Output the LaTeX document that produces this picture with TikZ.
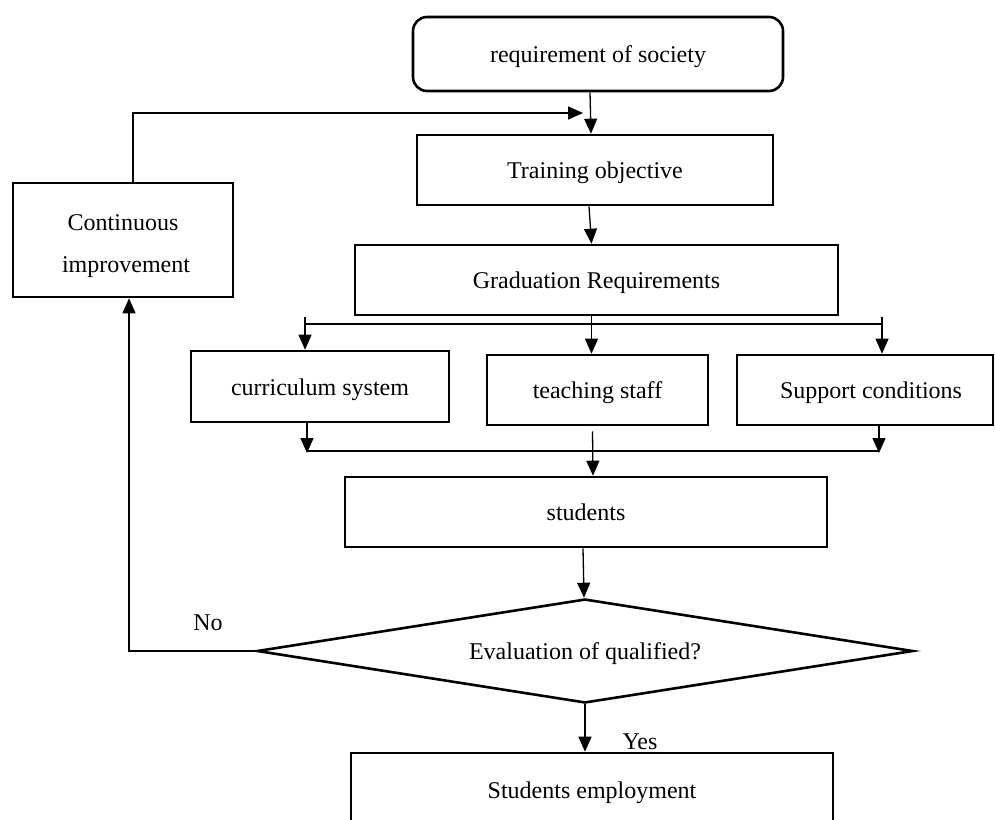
\documentclass[tikz,border=0pt]{standalone}
\usepackage{fontspec}
\setmainfont{Liberation Serif}
\usetikzlibrary{arrows.meta,shapes.geometric}
\begin{document}
\begin{tikzpicture}[x=1pt,y=-1pt,
  every node/.style={font=\fontsize{24}{42}\selectfont},
  box/.style={draw,line width=2.6pt,inner sep=0pt,align=center},
  low/.style={text height=20pt,text depth=3pt},
  arr/.style={line width=1.3pt,-{Triangle[length=15pt,width=13pt]}},
  conn/.style={line width=1.3pt}]
\useasboundingbox (0,0) rectangle (995,819);
\clip (0,0) rectangle (995,819);
\node[box,low,rounded corners=14pt,minimum width=370pt,minimum height=74pt] (req) at (598,54) {requirement of society};
\node[box,low,minimum width=356pt,minimum height=70pt] (train) at (595,170) {Training objective};
\node[box,text height=64pt,text depth=0pt,minimum width=220pt,minimum height=114pt] (cont) at (123,240) {Continuous\\\ improvement};
\node[box,low,minimum width=483pt,minimum height=70pt] (grad) at (596.5,280) {Graduation Requirements};
\node[box,low,minimum width=258pt,minimum height=71pt] (curr) at (320,386.5) {curriculum system};
\node[box,low,minimum width=221pt,minimum height=70pt] (teach) at (597.5,390) {teaching staff};
\node[box,low,minimum width=256pt,minimum height=70pt] (supp) at (865,390) {\hspace*{12pt}Support conditions};
\node[box,low,minimum width=482pt,minimum height=70pt] (stud) at (586,512) {students};
\node[draw,low,line width=2.6pt,shape=diamond,aspect=6.3,inner sep=0pt,minimum width=656pt,minimum height=104pt] (dia) at (585,651) {Evaluation of qualified?};
\node[box,low,minimum width=482pt,minimum height=74pt] (emp) at (592,790) {Students employment};
\node (no) at (208,623) {No};
\node (yes) at (640,742) {Yes};
% connectors
\draw[arr] ([xshift=-8pt]req.south) -- ([xshift=-4pt]train.north);
\draw[arr] ([xshift=-6pt]train.south) -- ([xshift=-5pt]grad.north);
\draw[arr] ([xshift=-5pt]grad.south) -- ([xshift=-5pt]grad.south |- teach.north);
\coordinate (sl) at (305,324);
\coordinate (sr) at (882,324);
\draw[conn] (sl) -- (sr);
\draw[arr] ([yshift=7pt]sl) -- (sl |- curr.north);
\draw[arr] ([yshift=7pt]sr) -- (sr |- supp.north);
\coordinate (ml) at (307,451);
\coordinate (mr) at (879,451);
\draw[conn] (ml) -- (mr);
\draw[arr] (curr.south -| ml) -- ([yshift=-2pt]ml);
\draw[arr] (supp.south -| mr) -- ([yshift=-2pt]mr);
\draw[arr] ([xshift=-5pt,yshift=-5pt]teach.south) -- ([xshift=7pt]stud.north);
\draw[arr] ([xshift=-3pt]stud.south) -- ([xshift=-1pt]dia.north);
\coordinate (nocorner) at (129,651);
\draw[arr] (dia.west) -- (nocorner) -- (nocorner |- cont.south);
\coordinate (fb) at (133,113);
\coordinate (fbend) at (583,113);
\draw[arr] (cont.north -| fb) -- (fb) -- (fbend);
\draw[arr] (dia.south) -- (dia.south |- emp.north);
\end{tikzpicture}
\end{document}
